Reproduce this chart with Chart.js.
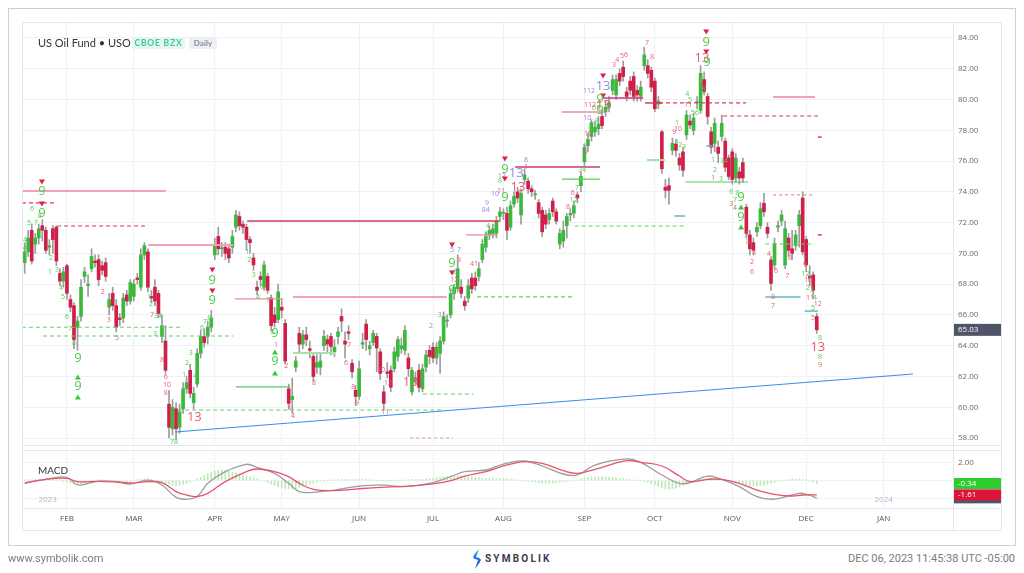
<!DOCTYPE html>
<html><head><meta charset="utf-8">
<script src="https://cdn.jsdelivr.net/npm/chart.js@4.4.0/dist/chart.umd.min.js"></script>
<style>
body{margin:0;background:#fff;width:1024px;height:573px;overflow:hidden;position:relative;font-family:Roboto,Arial,sans-serif}
.a{position:absolute}
.hl{position:absolute;height:1px;background:#e3e7ef}
.vl{position:absolute;width:1px;background:#e3e7ef}
</style></head><body>
<div class="a" style="left:8px;top:8px;width:1006px;height:536px;border:1px solid #cfcfcf"></div>
<div class="a" style="left:22px;top:22px;width:978px;height:507px;border:1px solid #e3e7ef"></div>
<div class="a" id="pw" style="left:23px;top:23px;width:978px;height:422px"><canvas id="pc"></canvas></div>
<div class="a" id="mw" style="left:23px;top:451px;width:978px;height:79px"><canvas id="mc"></canvas></div>
<div class="hl" style="left:22px;top:445px;width:979px"></div>
<div class="hl" style="left:22px;top:450px;width:979px"></div>
<div class="hl" style="left:22px;top:508px;width:979px"></div>
<div class="vl" style="left:953px;top:22px;height:508px"></div>
<div class="a" style="left:38px;top:36px;font-family:Lato,sans-serif;font-size:11px;color:#333">US Oil Fund • USO</div>
<div class="a" style="left:132px;top:37px;width:53px;height:12px;background:#e4f7ef;border-radius:2px;color:#3cc99c;font-family:Lato,sans-serif;font-weight:bold;font-size:8.5px;letter-spacing:0.8px;line-height:12px;text-align:center">CBOE BZX</div>
<div class="a" style="left:189px;top:37px;width:28px;height:12px;background:#eceff3;border-radius:2px;color:#8a8f99;font-family:Lato,sans-serif;font-weight:bold;font-size:8px;line-height:12px;text-align:center">Daily</div>
<div class="a" style="left:38px;top:464px;font-family:Lato,sans-serif;font-size:10px;color:#333">MACD</div>
<div class="a" style="left:8px;top:552px;font-size:11px;color:#7b7b7b">www.symbolik.com</div>
<svg class="a" style="left:472px;top:549px" width="10" height="20"><defs><linearGradient id="lg" x1="0" y1="0" x2="0" y2="1"><stop offset="0" stop-color="#2fa0ff"/><stop offset="1" stop-color="#0a4fd6"/></linearGradient></defs><path d="M7 0 L2 6 Q0 9 3 10 L6 11 L3 20 L8 13 Q10 10 7 9 L4 8 Z" fill="url(#lg)"/></svg>
<div class="a" style="left:485px;top:553px;font-size:10px;font-weight:bold;letter-spacing:2.2px;color:#3a3d4a">SYMBOLIK</div>
<div class="a" style="right:9px;top:552px;font-size:11px;color:#7b7b7b">DEC 06, 2023 11:45:38 UTC -05:00</div>
<script>
// ---------- DATA ----------
const monthIdx = [12,31,54,73,95,116,136,159,179,201,222,244];
const monthLabels = ['FEB','MAR','APR','MAY','JUN','JUL','AUG','SEP','OCT','NOV','DEC','JAN'];
const priceTicks = [58,60,62,64,66,68,70,72,74,76,78,80,82,84];
const macdTicks = [2,0,-2];
const yearMarks = [[6.5,'2023'],[244,'2024']];

const opens = [69.4,70.1,71.5,70.6,71.0,71.8,71.5,70.4,71.6,71.7,
68.7,68.2,69.2,67.0,66.6,65.2,65.9,68.5,67.9,69.0,
69.5,69.6,69.2,69.4,66.5,67.4,66.6,65.8,65.8,67.3,
66.9,67.2,68.4,67.8,69.9,70.1,67.2,67.8,67.4,64.6,
64.3,60.2,58.6,59.9,58.7,59.9,61.2,62.4,60.3,61.5,
63.5,64.6,64.6,65.2,69.9,71.1,70.3,70.4,70.3,70.4,
71.7,72.4,71.9,71.7,70.9,69.7,67.8,68.5,67.8,68.5,
67.1,66.0,65.7,66.5,65.45,61.2,60.5,62.6,64.8,64.1,
64.7,63.8,63.3,62.6,62.6,64.0,64.4,64.6,63.6,64.6,
65.9,64.3,64.9,62.85,61.1,60.7,64.1,65.4,63.8,64.2,
64.6,63.6,61.0,62.3,62.4,62.5,63.3,63.8,63.7,63.2,
61.0,61.7,62.4,61.2,62.6,63.7,63.9,63.2,63.5,64.3,
65.6,66.0,67.4,67.7,67.8,66.9,67.1,68.4,68.4,68.5,
69.6,70.4,71.2,71.3,71.3,72.4,72.6,72.6,71.7,73.2,
74.0,72.5,74.8,74.7,74.2,73.8,73.3,72.8,72.5,72.2,
73.4,72.7,70.6,70.8,71.8,72.5,72.6,73.8,74.4,75.96,
77.0,77.6,77.9,78.1,78.9,79.2,79.5,80.6,80.3,81.7,
82.1,80.5,81.2,81.5,80.6,80.2,82.2,82.2,81.9,81.2,
79.7,77.9,74.3,74.4,76.7,77.1,76.2,76.6,77.7,78.6,
78.0,79.8,79.3,81.3,80.2,77.9,77.15,76.9,77.6,77.3,
76.2,76.6,74.9,75.3,75.9,73.0,71.2,70.7,71.4,71.8,
73.25,71.7,69.57,69.25,71.7,72.1,69.25,71.0,70.3,70.5,
71.8,73.6,70.9,68.5,68.6,65.9];
const highs = [70.7,71.5,71.9,71.3,71.9,72.2,71.7,70.9,71.8,71.8,
69.0,69.1,69.3,67.3,66.8,65.9,68.3,69.1,68.6,70.3,
69.9,69.9,69.5,69.7,67.4,67.8,67.0,66.1,67.4,67.6,
68.3,68.3,68.7,70.3,70.7,70.3,67.6,68.3,67.6,66.0,
65.3,61.1,60.5,60.3,60.2,61.6,62.0,62.8,61.3,63.8,
65.0,65.1,65.6,66.3,71.0,71.7,70.7,70.7,70.6,71.5,
72.8,72.7,72.1,71.9,71.1,70.0,68.2,68.8,69.5,68.7,
67.3,66.5,68.0,67.0,65.7,61.5,61.9,63.3,65.2,65.0,
65.2,64.3,63.5,63.4,63.5,65.0,64.7,64.8,64.4,65.2,
66.4,64.9,65.3,63.1,61.4,63.0,64.8,65.7,64.3,65.0,
64.8,63.8,61.4,62.9,62.7,63.9,64.6,64.5,65.3,63.5,
62.6,62.3,62.8,62.8,63.7,64.0,64.2,64.2,64.6,66.2,
66.0,67.7,68.0,69.9,68.3,67.2,68.3,68.7,68.8,69.4,
70.9,71.4,71.8,71.9,72.4,73.0,72.9,73.0,73.4,74.0,
74.3,74.2,75.5,74.9,74.4,74.1,73.5,73.0,72.8,72.9,
73.6,72.9,71.6,72.1,72.6,72.9,73.4,74.0,75.3,77.1,
77.8,78.7,78.6,78.9,79.3,79.9,80.2,81.6,81.6,82.0,
82.5,80.8,81.5,81.8,80.9,81.2,83.4,82.6,82.1,81.4,
80.2,78.0,74.8,74.9,77.5,77.4,76.5,76.9,79.3,79.0,
79.1,80.2,82.2,81.8,80.4,78.2,78.8,77.3,79.0,77.5,
76.4,76.8,76.5,75.6,76.2,73.2,71.5,71.0,72.0,73.3,
73.9,72.0,69.8,71.0,72.1,72.8,72.1,71.3,71.5,71.5,
72.8,74.0,71.1,69.2,68.8,66.1];
const lows = [68.7,69.8,69.3,70.0,70.6,70.8,70.0,69.9,70.0,69.2,
67.9,67.8,67.0,66.2,63.8,63.7,65.6,68.1,67.2,68.8,
69.1,67.9,68.6,68.2,66.0,66.3,64.9,65.3,65.5,66.6,
66.7,66.9,68.0,67.6,69.6,67.5,66.8,66.6,65.8,64.2,
62.2,58.0,58.2,57.9,58.3,59.6,60.9,60.6,59.9,61.3,
63.2,63.9,64.1,64.9,69.6,69.9,69.8,69.6,69.4,70.0,
71.4,71.5,71.3,70.2,70.0,68.9,67.3,67.9,67.6,67.4,
65.0,65.2,65.5,65.8,62.8,59.9,59.6,62.3,63.6,63.8,
64.0,63.2,61.7,62.2,62.1,63.7,63.5,63.4,63.3,64.1,
64.9,63.2,64.4,61.9,60.1,60.5,63.8,63.7,63.4,64.0,
62.3,61.8,59.9,61.9,61.0,62.3,63.0,63.5,63.4,62.0,
60.8,61.5,61.0,61.0,62.3,62.8,62.9,62.8,62.2,64.1,
65.2,65.8,67.0,67.5,67.1,66.3,66.8,67.4,67.6,68.2,
69.4,70.1,70.9,71.0,71.0,72.1,72.2,70.9,71.5,73.0,
73.3,71.9,74.5,73.9,73.7,73.5,72.3,71.1,71.6,71.9,
72.4,71.9,70.3,70.4,71.0,72.1,72.3,73.3,74.0,75.7,
76.6,77.3,77.6,77.7,78.1,78.9,79.2,80.3,80.0,80.9,
81.2,79.9,80.3,79.9,79.9,79.9,81.9,81.4,80.5,79.2,
79.4,75.2,73.6,73.2,76.4,76.3,75.4,75.0,77.4,78.1,
77.7,79.4,79.1,80.3,78.4,76.5,76.6,75.9,77.3,75.3,
74.8,74.5,74.6,74.5,74.6,71.0,69.9,69.9,71.1,71.6,
72.4,71.0,67.6,69.0,71.4,71.8,69.0,69.8,69.6,70.2,
70.4,69.9,68.8,67.9,67.1,64.8];
const closes = [70.1,71.0,69.5,71.0,71.6,71.5,70.2,70.5,70.9,69.5,
68.2,68.8,67.4,66.5,64.4,65.6,67.8,68.8,68.0,69.8,
69.4,68.3,68.9,68.5,67.0,66.6,65.2,65.7,67.1,66.9,
68.1,68.0,68.3,69.9,70.5,67.8,67.1,66.9,66.1,65.3,
62.4,58.7,60.0,58.6,59.7,61.2,61.6,60.9,60.9,63.5,
64.6,64.2,65.2,65.8,70.5,70.3,70.3,70.0,69.7,71.1,
72.5,71.8,71.7,70.9,70.7,69.25,67.6,68.3,69.25,67.6,
65.3,65.5,67.5,66.3,63.0,60.25,60.7,63.0,64.1,64.7,
64.4,63.7,62.0,62.9,63.0,64.6,64.1,63.95,63.9,64.9,
65.6,64.1,64.8,62.3,60.7,62.5,64.2,64.4,64.0,64.8,
63.85,62.2,60.25,62.2,61.3,63.6,64.4,64.0,65.0,62.5,
62.4,61.9,61.3,62.5,63.4,63.3,63.2,63.9,64.3,65.9,
65.6,67.4,67.8,69.0,67.4,66.6,67.9,67.7,67.9,69.0,
70.6,71.1,71.5,71.6,72.1,72.7,72.6,71.5,73.1,73.7,
73.6,73.9,75.1,74.2,74.0,73.8,72.6,71.4,71.9,72.6,
72.7,72.1,71.3,71.5,72.4,72.6,73.1,73.6,75.0,76.9,
77.4,78.5,78.2,78.4,78.3,79.5,79.8,81.3,81.3,81.2,
81.5,80.2,80.6,80.2,80.3,80.8,82.9,81.7,80.8,79.4,
79.9,75.5,74.1,74.1,77.15,76.7,75.75,75.4,79.0,78.35,
78.8,79.8,81.7,80.5,78.9,76.9,78.45,76.5,78.45,75.6,
75.0,74.8,76.2,74.9,74.9,71.3,70.3,70.2,71.7,72.9,
72.7,71.3,68.05,70.65,71.8,72.5,71.6,70.2,70.0,71.2,
72.5,70.1,69.25,68.4,67.6,65.03];

// MACD lines read at sample candles
const macdIdx = [0,6,12,15,21,26,30,35,39,43,46,49,52,57,63,66,71,75,78,82,88,94,101,108,116,121,125,131,136,142,147,153,157,162,171,175,181,186,189,194,198,203,208,213,218,221,225];
const macdLine = [-0.24,0.13,0.36,-0.5,-0.06,-0.13,-0.4,0.05,-0.5,-1.9,-2.1,-1.8,-0.32,1.0,1.82,1.48,0.8,-0.32,-1.25,-1.33,-1.07,-0.69,-0.5,-0.69,-0.24,0.43,1.0,1.18,1.85,2.19,1.63,0.73,0.62,1.74,2.42,2.04,0.62,-0.32,-0.24,0.5,0.13,-0.69,-1.82,-2.1,-1.63,-1.44,-1.95];
const signalLine = [-0.32,0.13,0.24,-0.13,-0.1,-0.17,-0.28,-0.13,-0.24,-1.25,-1.63,-1.8,-1.44,-0.13,1.0,1.29,1.0,0.43,-0.32,-1.0,-1.14,-0.96,-0.77,-0.66,-0.39,-0.02,0.5,1.0,1.63,2.12,1.93,1.1,0.8,1.25,2.23,2.04,1.63,0.5,-0.13,0.13,0.13,-0.32,-1.07,-1.55,-1.74,-1.63,-1.61];
const histogram = [0.05,0.08,0.1,0.12,0.12,0.13,0.13,0.12,0.12,0.12,0.1,
-0.1,-0.2,-0.3,-0.4,-0.4,-0.35,-0.25,
-0.1,0,0.05,0.1,0.1,0.05,0,-0.05,-0.05,-0.1,-0.12,-0.12,-0.1,
0.05,0.1,0.15,0.2,0.2,0.15,0.05,-0.05,
-0.15,-0.3,-0.45,-0.55,-0.6,-0.55,-0.45,-0.35,-0.2,-0.05,
0.15,0.35,0.55,0.75,0.9,1.05,1.15,1.2,1.15,1.05,0.95,0.85,0.75,0.65,0.5,0.4,0.3,0.2,
0.05,-0.1,-0.25,-0.4,-0.55,-0.7,-0.8,-0.9,-0.95,-0.95,-0.9,-0.8,-0.65,-0.5,-0.4,-0.3,-0.2,-0.1,-0.05,
0,0.05,0.08,0.1,0.12,0.12,0.1,0.1,0.12,0.15,0.15,0.12,0.1,0.05,0.02,0,-0.02,-0.02,0,0.02,0.03,0.05,0.05,0.08,0.1,0.12,0.12,0.12,0.15,0.2,
0.25,0.3,0.35,0.4,0.45,0.5,0.55,0.55,0.55,0.5,0.45,0.4,0.35,0.3,0.28,0.25,0.25,0.25,0.22,0.2,0.2,0.18,0.15,0.1,0.05,
0,-0.05,-0.1,-0.15,-0.2,-0.25,-0.3,-0.3,-0.3,-0.28,-0.25,-0.2,-0.15,-0.1,-0.05,0,
0.1,0.2,0.3,0.35,0.4,0.42,0.42,0.4,0.38,0.35,0.32,0.3,0.25,0.2,0.15,0.1,0.05,0.02,0,
-0.1,-0.2,-0.35,-0.5,-0.7,-0.85,-0.95,-1.0,-0.95,-0.85,-0.7,-0.55,-0.4,-0.25,-0.1,
0.05,0.15,0.2,0.25,0.25,0.2,0.15,0.1,0.05,0,
-0.1,-0.2,-0.3,-0.4,-0.5,-0.55,-0.6,-0.6,-0.55,-0.5,-0.4,-0.3,-0.2,-0.1,
0,0.05,0.1,0.15,0.15,0.15,0.12,0.05,-0.05,-0.2,-0.34];

// support / resistance levels: [startIdx, endIdx, price, kind]
const levels = [
[-0.8,40.1,74.06,'pink'],[-0.8,9.2,73.28,'redDash'],[9.2,35.1,71.78,'redDash'],[35.1,59.2,70.55,'pink'],
[63.2,135.0,72.1,'crimson'],[59.7,73.4,67.04,'pinkThin'],[76.2,119.9,67.17,'pink'],
[-0.8,45.0,65.2,'greenDash'],[5.2,59.2,64.63,'greenDash'],[60.0,75.4,61.32,'green'],[43.6,119.0,59.82,'greenDash'],
[76.2,88.2,63.53,'lightGreen'],[113.1,127.4,60.86,'greenDash'],[109.5,121.7,58.0,'pinkDash'],[125.4,134.2,71.2,'pinkThin'],
[128.5,156.2,67.17,'greenDash'],[139.3,163.4,75.61,'magenta'],[152.6,163.4,74.83,'green'],[156.2,187.6,71.78,'greenDash'],
[152.6,164.8,79.19,'pinkThin'],[164.3,175.7,80.1,'magenta'],[180.2,204.9,79.78,'redDash'],[176.2,181.1,79.78,'crimson'],
[187.6,205.5,74.64,'green'],[176.8,181.9,76.07,'lightGreen'],[184.5,187.6,72.43,'teal'],[193.6,196.2,76.98,'teal'],
[198.4,225.9,78.93,'redDash'],[212.6,224.5,80.16,'pink'],[212.6,224.5,73.8,'pinkDash'],[210.4,224.5,70.61,'greenDash'],
[210.4,220.4,67.17,'teal'],[221.6,225.3,66.25,'teal'],[225.3,226.4,77.56,'crimson'],[225.3,226.4,71.2,'crimson']];
const trendStart = [42.7,58.39];
const trendEnd = [252.3,62.16];

// TD sequential annotations: [idx, price, text, kind]
const tdBig = [[4.9,74.06,'9','g'],[4.9,72.63,'9','g'],[15.1,63.2,'9','g'],[15.1,61.38,'9','g'],[48.2,59.37,'13','r'],
[53.3,68.27,'9','g'],[53.3,66.97,'9','g'],[71.1,64.83,'9','g'],[71.1,63.0,'9','g'],[109.5,61.64,'13','r'],
[121.4,69.38,'9','g'],[121.4,67.62,'9','g'],[136.4,75.49,'9','g'],[139.6,75.23,'13','p'],[140.1,74.32,'13','r'],[136.4,73.67,'9','g'],
[164.3,80.88,'13','p'],[163.4,80.03,'9','g'],[164.3,79.65,'13','r'],[163.4,79.32,'9','g'],
[193.6,83.74,'9','g'],[192.4,82.7,'13','r'],[193.8,82.44,'9','g'],[203.5,73.67,'9','g'],[203.5,72.37,'9','g'],[225.3,63.92,'13','r']];
const tdTri = [[4.9,74.64,'dn'],[4.9,73.21,'dn'],[15.1,61.97,'up'],[15.1,60.67,'up'],[53.3,68.92,'dn'],[53.3,67.56,'dn'],
[71.1,63.59,'up'],[71.1,62.23,'up'],[121.4,70.55,'dn'],[121.4,68.73,'dn'],[136.4,76.14,'dn'],[136.4,74.84,'dn'],
[164.3,81.53,'dn'],[164.3,80.23,'dn'],[193.6,84.39,'dn'],[193.6,83.09,'dn'],[203.5,73.02,'up'],[203.5,71.72,'up']];
const tdSmall = [[0.1,70.87,'4','g'],[0.1,70.35,'4','g'],[1.2,71.98,'5','g'],[2.1,72.89,'6','g'],[3.2,71.98,'7','g'],[4.3,72.43,'8','g'],
[7.2,68.79,'1','g'],[7.5,69.7,'2','g'],[9.2,68.92,'3','g'],[10.3,67.75,'4','g'],[10.9,67.17,'5','g'],[12.0,65.87,'6','g'],[12.9,65.09,'7','g'],[14.0,64.18,'8','g'],
[22.2,67.49,'2','r'],[23.9,65.67,'3','r'],[26.2,64.5,'5','r'],[39.0,63.07,'8','r'],[40.1,61.97,'6','r'],[40.4,61.45,'10','r'],[40.1,60.93,'8','r'],
[35.3,67.17,'1','g'],[35.9,66.71,'2','g'],[36.2,65.99,'7','r'],[37.9,65.93,'34','g'],[37.0,64.76,'3','g'],
[45.3,62.1,'1','g'],[46.1,62.88,'2','g'],[47.2,63.53,'3','g'],[48.4,62.03,'4','g'],[50.4,65.15,'6','g'],[51.2,65.54,'7','g'],[52.4,65.8,'8','g'],[42.4,57.74,'78','g'],
[63.2,70.09,'1','g'],[63.8,69.57,'2','g'],[65.1,68.6,'3','g'],[66.3,67.17,'4','g'],[67.4,67.82,'6','g'],[69.1,66.97,'7','g'],[70.3,64.89,'8','g'],
[71.4,64.04,'1','r'],[74.3,62.68,'2','r'],[75.1,59.95,'3','r'],[76.2,59.43,'4','r'],[82.2,61.58,'8','r'],[91.3,62.88,'6','r'],[92.1,64.04,'7','r'],
[93.3,61.32,'8','r'],[94.4,60.28,'9','r'],[101.2,62.42,'10','r'],[102.4,59.69,'11','r'],[103.2,61.58,'12','r'],
[115.4,65.28,'2','p'],[117.8,65.99,'3','p'],[118.8,65.41,'5','g'],[120.8,66.9,'7','g'],
[121.4,70.22,'5','p'],[123.4,70.22,'7','p'],[123.4,69.57,'3','r'],[122.3,68.79,'6','p'],[122.0,68.27,'12','r'],
[127.6,69.31,'41','r'],[130.4,70.61,'2','g'],[131.0,71.13,'3','g'],[131.6,71.78,'4','g'],[131.0,72.82,'84','p'],[131.3,73.27,'9','p'],
[133.6,73.86,'10','p'],[135.3,74.05,'11','r'],[135.6,75.03,'12','p'],[135.0,74.71,'8','g'],[142.4,76.07,'8','p'],[142.4,75.62,'1','r'],
[154.3,73.02,'8','r'],[156.0,73.47,'12','g'],[155.7,73.93,'6','r'],[156.9,74.25,'7','g'],[157.8,74.77,'8','g'],[158.3,75.42,'34','g'],
[159.2,76.98,'9','p'],[159.2,76.59,'8','r'],[159.8,78.8,'10','p'],[160.6,78.02,'5','g'],[160.0,77.76,'10','r'],[162.3,79.45,'67','g'],
[162.6,78.61,'8','g'],[160.3,80.56,'112','p'],[160.6,79.65,'112','r'],
[167.4,82.25,'3','r'],[168.3,82.57,'4','r'],[169.7,82.83,'5','r'],[170.8,82.9,'6','r'],[176.8,83.68,'7','r'],[178.2,82.77,'8','r'],
[188.2,80.36,'4','g'],[189.0,79.97,'5','g'],[188.5,79.65,'11','r'],[190.4,79.13,'56','g'],[185.3,78.48,'1','g'],[184.5,77.89,'9','r'],
[185.6,78.09,'10','r'],[185.3,77.24,'1','g'],[186.2,77.05,'2','g'],[187.3,76.92,'3','g'],[192.1,81.27,'7','g'],[192.9,80.62,'6','g'],
[195.5,76.07,'1','g'],[196.1,75.42,'2','g'],[195.5,74.9,'1','r'],[198.1,76.0,'3','g'],[199.2,76.0,'4','g'],[197.8,74.84,'3','g'],
[200.7,73.99,'6','g'],[201.8,73.47,'7','g'],[202.4,73.93,'8','g'],[200.7,73.21,'3','r'],[201.8,72.95,'4','r'],
[205.2,71.26,'1','r'],[205.5,70.74,'8','r'],[207.2,70.03,'3','r'],[206.6,69.44,'2','r'],[206.6,68.79,'6','r'],[211.4,69.96,'4','r'],
[213.4,68.86,'6','r'],[212.6,67.17,'8','r'],[212.6,66.58,'7','r'],[216.6,68.53,'7','r'],[217.4,69.7,'8','r'],
[221.6,69.64,'1','g'],[221.6,69.25,'9','r'],[221.8,68.66,'12','g'],[222.5,68.27,'10','r'],[222.5,67.75,'2','g'],[223.6,67.62,'3','g'],
[223.1,67.1,'11','r'],[224.5,67.1,'4','g'],[225.3,66.71,'12','r'],[223.9,66.45,'5','g'],[223.9,65.8,'5','r'],[225.9,64.5,'8','g'],
[225.9,63.27,'8','g'],[225.9,62.75,'9','r']];

// ---------- STYLE ----------
const GREEN = '#3cb93c', RED = '#d01f48', WICK = '#9c9c9c', GRID = '#eef1f6';
const TD_COL = {g:'#4fcf4f', r:'#e85a76', p:'#9987e2'};
const LEVEL_STYLE = {
  pink:{c:'#f2a2b3',w:2}, pinkThin:{c:'#ec8aa0',w:1.3}, crimson:{c:'#d6385f',w:1.5}, magenta:{c:'#cf3478',w:1.5},
  redDash:{c:'#e8354f',w:1.2,d:[4,3]}, pinkDash:{c:'#f08ea4',w:1.2,d:[3,3]}, greenDash:{c:'#5cd65c',w:1.2,d:[4,3]},
  green:{c:'#5cc85c',w:1.2}, lightGreen:{c:'#a6e3a6',w:2}, teal:{c:'#62b9bd',w:1.5}
};
const XMIN = -0.48, XMAX = 263.7;
const FONT = '"Open Sans", sans-serif';
Chart.defaults.font.family = FONT;

const idxs = closes.map((_, i) => i);
const levelSets = levels.map(([s,e,p,k]) => ({
  type:'line', data:[{x:s,y:p},{x:e,y:p}], borderColor:LEVEL_STYLE[k].c, backgroundColor:LEVEL_STYLE[k].c, borderWidth:LEVEL_STYLE[k].w,
  borderDash:LEVEL_STYLE[k].d || [], pointRadius:0, order:-1
}));
const trendSet = {type:'line', data:[{x:trendStart[0],y:trendStart[1]},{x:trendEnd[0],y:trendEnd[1]}], borderColor:'#3b8ee8', borderWidth:1.2, pointRadius:0, order:-2};

const noPadV = s => { s.width = 48; s.paddingTop = 0; s.paddingBottom = 0; };
const noPadH = h => s => { s.height = h; s.paddingLeft = 0; s.paddingRight = 0; };

const tdPlugin = {
  id:'td',
  afterDatasetsDraw(chart){
    const {ctx, chartArea:a, scales:{x,y}} = chart;
    ctx.save();
    ctx.beginPath(); ctx.rect(a.left,a.top,a.right-a.left,a.bottom-a.top); ctx.clip();
    ctx.textAlign='center'; ctx.textBaseline='middle';
    ctx.font = '7px ' + FONT;
    for (const [i,p,t,k] of tdSmall){ ctx.fillStyle = TD_COL[k]; ctx.fillText(t, x.getPixelForValue(i), y.getPixelForValue(p)); }
    for (const [i,p,d] of tdTri){
      const px = x.getPixelForValue(i), py = y.getPixelForValue(p);
      ctx.fillStyle = d==='dn' ? '#e0203f' : '#3cc83c';
      ctx.beginPath();
      if (d==='dn'){ ctx.moveTo(px-3,py-2.5); ctx.lineTo(px+3,py-2.5); ctx.lineTo(px,py+2.5); }
      else { ctx.moveTo(px-3,py+2.5); ctx.lineTo(px+3,py+2.5); ctx.lineTo(px,py-2.5); }
      ctx.fill();
    }
    ctx.font = '13px ' + FONT;
    for (const [i,p,t,k] of tdBig){ ctx.fillStyle = TD_COL[k]; ctx.fillText(t, x.getPixelForValue(i), y.getPixelForValue(p)); }
    ctx.restore();
    const last = closes[closes.length-1];
    const yy = y.getPixelForValue(last);
    ctx.save();
    ctx.fillStyle='#4f5468'; ctx.fillRect(a.right, yy-6, 48, 12);
    ctx.fillStyle='#fff'; ctx.font='8px '+FONT; ctx.textAlign='left'; ctx.textBaseline='middle';
    ctx.fillText(last.toFixed(2), a.right+5, yy);
    ctx.restore();
  }
};

new Chart(document.getElementById('pc'), {
  type:'bar',
  data:{datasets:[
    ...levelSets, trendSet,
    {type:'bar', data: idxs.map(i=>({x:i,y:[lows[i],highs[i]]})), backgroundColor:WICK, barThickness:1, grouped:false, minBarLength:1, order:2},
    {type:'bar', data: idxs.map(i=>({x:i,y:[opens[i],closes[i]]})), backgroundColor: idxs.map(i=>closes[i]>=opens[i]?GREEN:RED), barThickness:3, grouped:false, minBarLength:1, order:1}
  ]},
  options:{
    animation:false, responsive:true, maintainAspectRatio:false, events:[],
    layout:{padding:0},
    plugins:{legend:{display:false}, tooltip:{enabled:false}},
    scales:{
      x:{type:'linear', min:XMIN, max:XMAX, offset:false, grid:{color:GRID, drawTicks:false, offset:false}, border:{display:false},
         ticks:{display:false}, afterBuildTicks:s=>{s.ticks = monthIdx.map(v=>({value:v}));}, afterFit:noPadH(0)},
      y:{position:'right', min:57.545, max:84.975, grid:{color:GRID, drawTicks:false}, border:{display:false},
         ticks:{font:{size:8}, color:'#6b6b6b', padding:5, callback:v=>Number(v).toFixed(2)},
         afterBuildTicks:s=>{s.ticks = priceTicks.map(v=>({value:v}));}, afterFit:noPadV}
    }
  },
  plugins:[tdPlugin]
});

const macdPlugin = {
  id:'macdBoxes',
  afterDatasetsDraw(chart){
    const {ctx, chartArea:a, scales:{x,y}} = chart;
    ctx.save();
    ctx.font='8px '+FONT; ctx.textAlign='center'; ctx.textBaseline='middle'; ctx.fillStyle='#b3b9c6';
    for (const [i,t] of yearMarks) ctx.fillText(t, x.getPixelForValue(i), a.bottom-8);
    const boxes = [[macdLine[macdLine.length-1],'#4f5468'],[histogram[histogram.length-1],'#2ecc2e'],[signalLine[signalLine.length-1],'#dc143c']];
    ctx.textAlign='left';
    for (const [v,c] of boxes){
      const yy = y.getPixelForValue(v);
      ctx.fillStyle=c; ctx.fillRect(a.right, yy-5.5, 48, 11);
      ctx.fillStyle='#fff'; ctx.fillText(v.toFixed(2), a.right+5, yy);
    }
    ctx.restore();
  }
};

new Chart(document.getElementById('mc'), {
  type:'bar',
  data:{datasets:[
    {type:'bar', data: histogram.map((v,i)=>({x:i,y:v})), backgroundColor:'#bde9b6', barThickness:1, order:3},
    {type:'line', data: macdIdx.map((i,k)=>({x:i,y:macdLine[k]})), borderColor:'#9d9d9d', borderWidth:1.3, tension:0.4, pointRadius:0, order:2},
    {type:'line', data: macdIdx.map((i,k)=>({x:i,y:signalLine[k]})), borderColor:'#e8536b', borderWidth:1.3, tension:0.4, pointRadius:0, order:1}
  ]},
  options:{
    animation:false, responsive:true, maintainAspectRatio:false, events:[],
    layout:{padding:0},
    plugins:{legend:{display:false}, tooltip:{enabled:false}},
    scales:{
      x:{type:'linear', min:XMIN, max:XMAX, offset:false, grid:{color:GRID, drawTicks:false, offset:false}, border:{display:false},
         ticks:{font:{size:8}, color:'#555', padding:6, maxRotation:0, autoSkip:false, callback:v=>monthLabels[monthIdx.indexOf(v)]},
         afterBuildTicks:s=>{s.ticks = monthIdx.map(v=>({value:v}));}, afterFit:noPadH(22)},
      y:{position:'right', min:-3.09, max:3.315, grid:{color:GRID, drawTicks:false}, border:{display:false},
         ticks:{font:{size:8}, color:'#6b6b6b', padding:5, callback:v=>Number(v).toFixed(2)},
         afterBuildTicks:s=>{s.ticks = macdTicks.map(v=>({value:v}));}, afterFit:noPadV}
    }
  },
  plugins:[macdPlugin]
});
</script>
</body></html>
